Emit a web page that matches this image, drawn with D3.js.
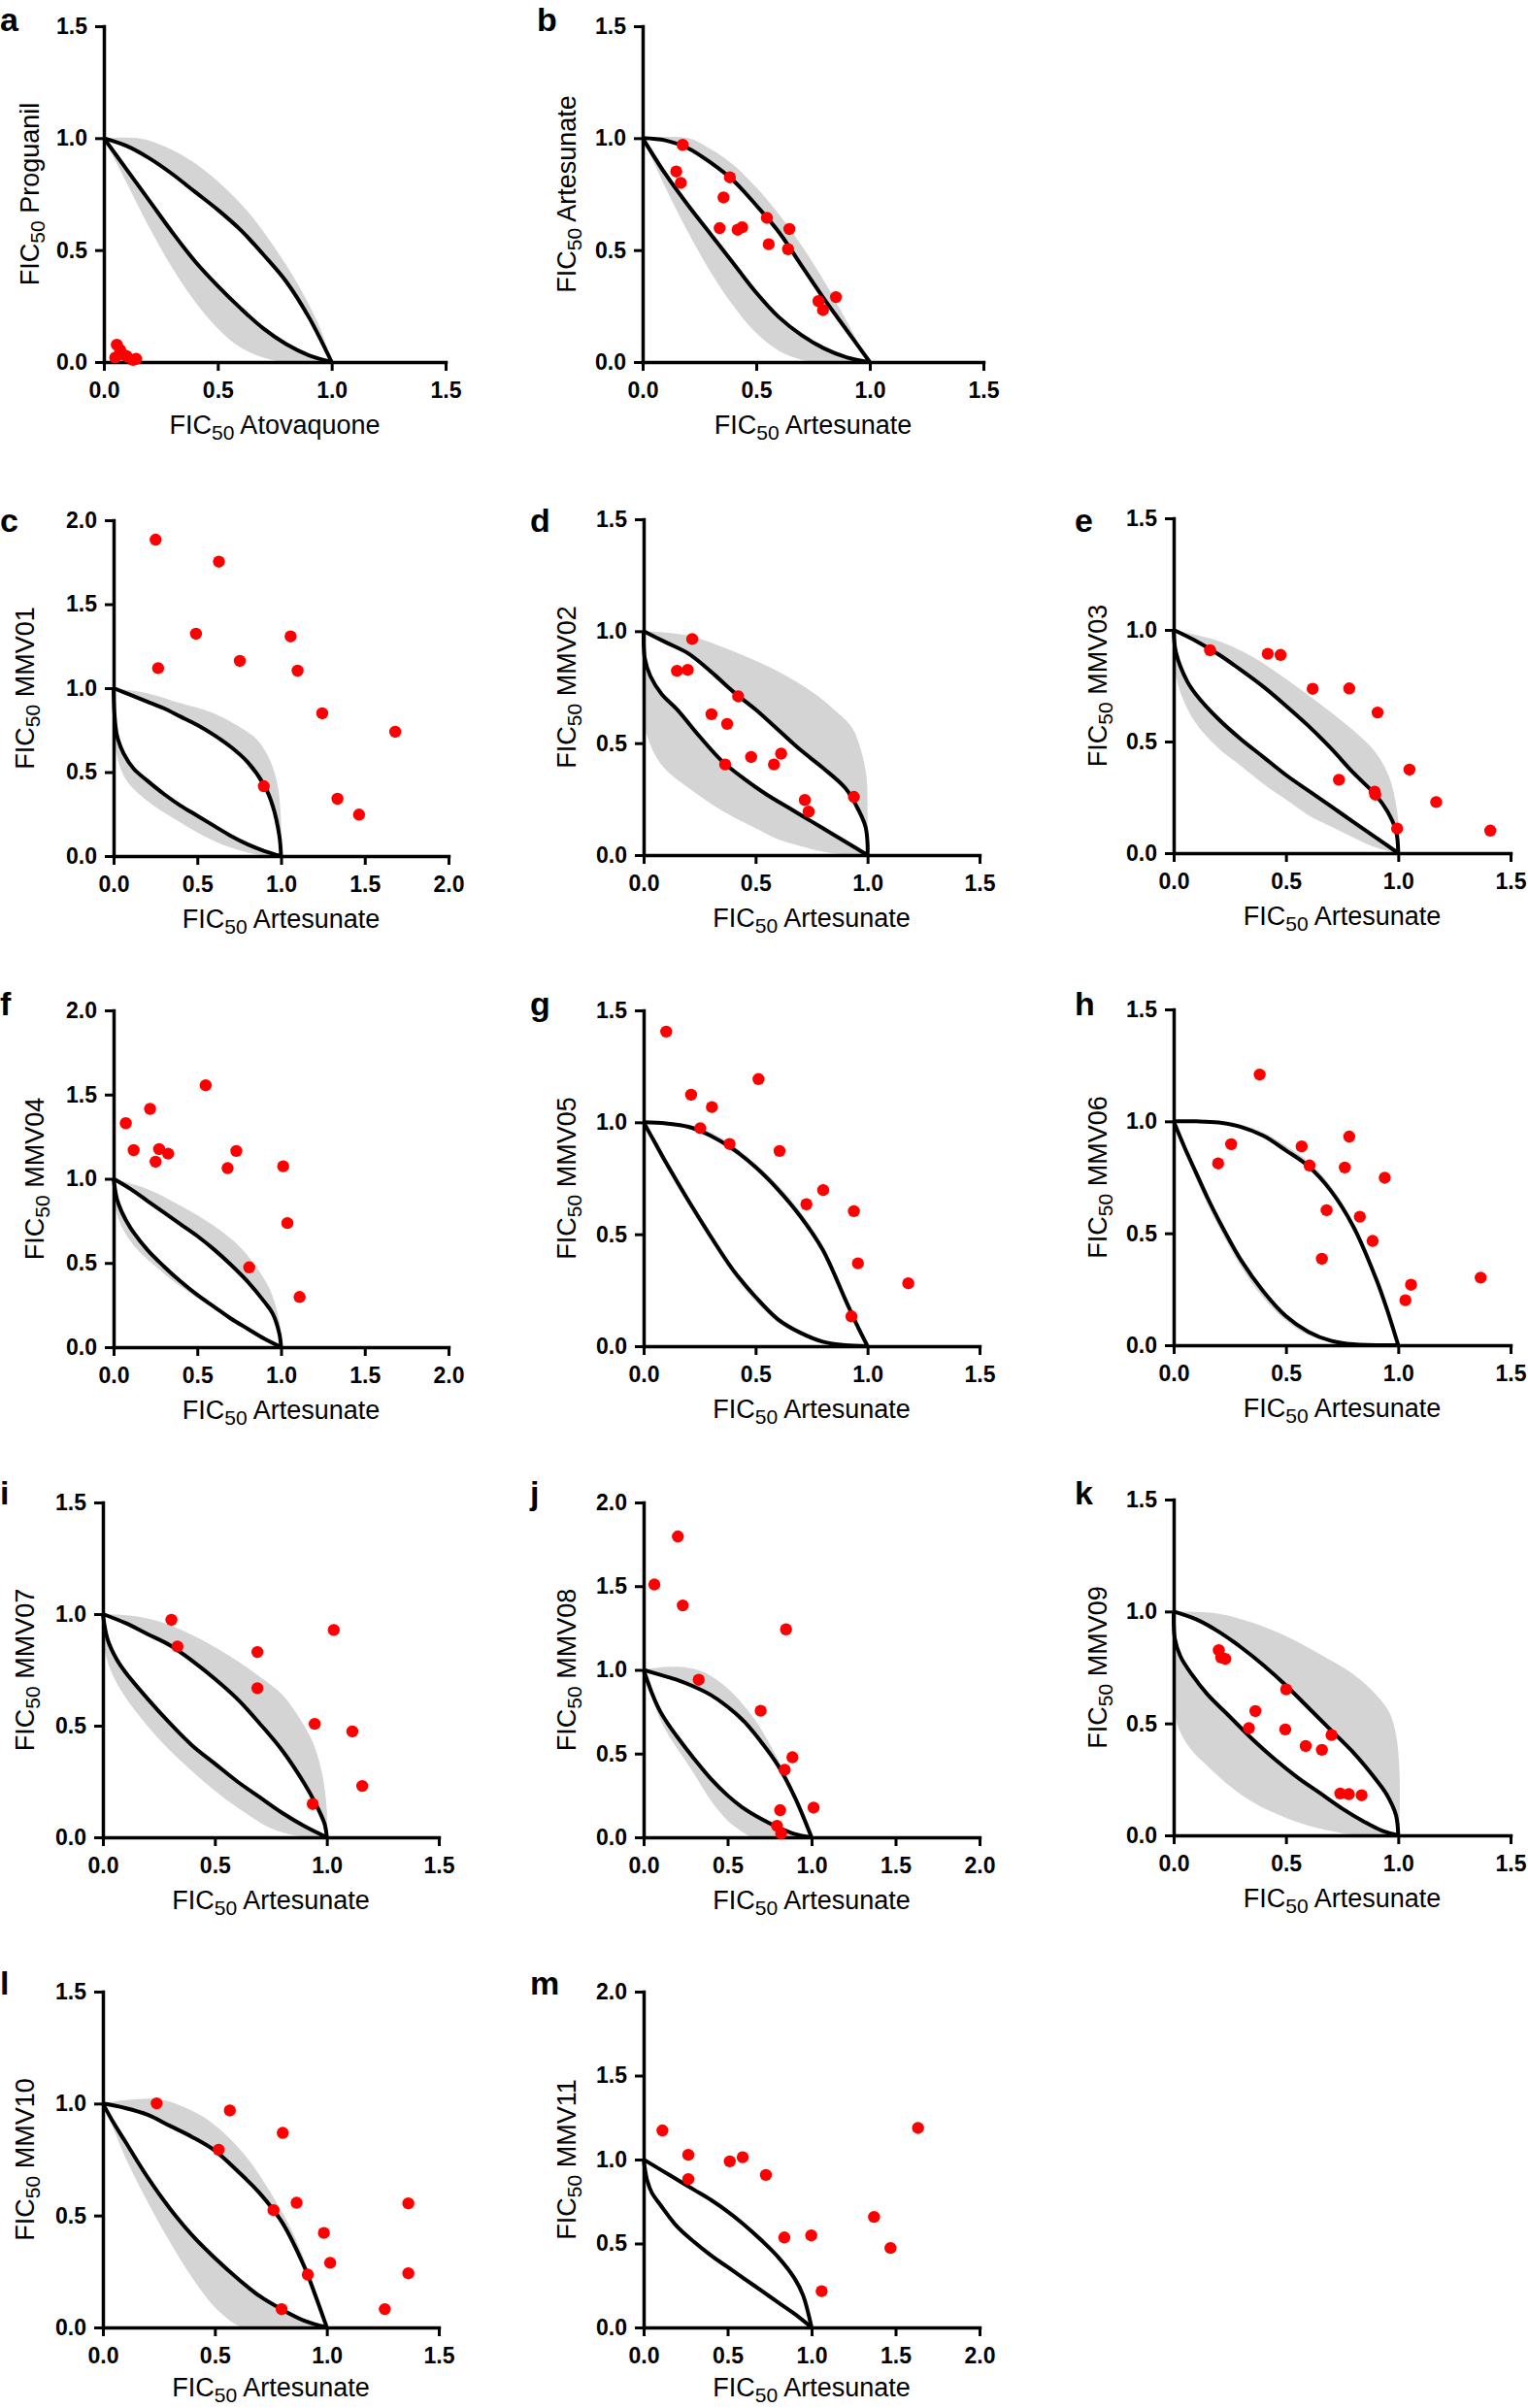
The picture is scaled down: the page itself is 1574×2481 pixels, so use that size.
<!DOCTYPE html>
<html><head><meta charset="utf-8">
<script src="https://cdn.jsdelivr.net/npm/d3@7"></script>
<style>body{margin:0;background:#fff} svg{display:block}</style>
</head><body>
<svg id="chart" width="1574" height="2481"></svg>
<script>
// ---------------- DATA ----------------
const panelIds = ["a","b","c","d","e","f","g","h","i","j","k","l","m"];
const xDrugs = ["Atovaquone","Artesunate","Artesunate","Artesunate","Artesunate","Artesunate","Artesunate","Artesunate","Artesunate","Artesunate","Artesunate","Artesunate","Artesunate"];
const yDrugs = ["Proguanil","Artesunate","MMV01","MMV02","MMV03","MMV04","MMV05","MMV06","MMV07","MMV08","MMV09","MMV10","MMV11"];
const xMaxes = [1.5,1.5,2,1.5,1.5,2,1.5,1.5,1.5,2,1.5,1.5,2];
const yMaxes = [1.5,1.5,2,1.5,1.5,2,1.5,1.5,1.5,2,1.5,1.5,2];
const ticks15 = [0,0.5,1.0,1.5];
const ticks20 = [0,0.5,1.0,1.5,2.0];

// observed combination points [FIC x, FIC y]
const pts_a = [[0.057,0.077],[0.071,0.055],[0.05,0.02],[0.085,0.033],[0.10,0.026],[0.128,0.009],[0.142,0.014]];
const pts_b = [[0.176,0.970],[0.148,0.851],[0.168,0.80],[0.384,0.825],[0.356,0.735],[0.339,0.598],[0.418,0.591],[0.438,0.602],[0.547,0.644],[0.555,0.526],[0.646,0.594],[0.640,0.504],[0.774,0.272],[0.794,0.232],[0.851,0.290]];
const pts_c = [[0.251,1.884],[0.629,1.753],[0.492,1.324],[1.057,1.308],[0.266,1.119],[0.754,1.162],[1.099,1.104],[1.246,0.850],[1.682,0.740],[0.897,0.416],[1.337,0.341],[1.466,0.247]];
const pts_d = [[0.217,0.965],[0.149,0.823],[0.197,0.827],[0.422,0.709],[0.303,0.629],[0.373,0.586],[0.364,0.405],[0.48,0.438],[0.582,0.405],[0.614,0.453],[0.72,0.246],[0.737,0.194],[0.939,0.26]];
const pts_e = [[0.162,0.909],[0.419,0.893],[0.476,0.888],[0.619,0.736],[0.782,0.738],[0.908,0.63],[1.05,0.374],[0.736,0.329],[0.895,0.275],[0.898,0.262],[1.169,0.229],[0.995,0.11],[1.41,0.101]];
const pts_f = [[0.55,1.555],[0.218,1.415],[0.073,1.33],[0.12,1.17],[0.272,1.176],[0.326,1.149],[0.251,1.101],[0.733,1.165],[0.681,1.063],[1.013,1.074],[1.038,0.737],[0.81,0.474],[1.111,0.298]];
const pts_g = [[0.101,1.405],[0.513,1.193],[0.212,1.123],[0.305,1.068],[0.253,0.974],[0.384,0.903],[0.607,0.872],[0.802,0.697],[0.727,0.634],[0.939,0.603],[0.957,0.37],[1.182,0.281],[0.928,0.133]];
const pts_h = [[0.383,1.209],[0.256,0.898],[0.198,0.812],[0.57,0.888],[0.605,0.803],[0.782,0.932],[0.762,0.794],[0.94,0.748],[0.681,0.603],[0.829,0.574],[0.886,0.466],[0.66,0.386],[1.057,0.27],[1.032,0.201],[1.367,0.302]];
const pts_i = [[0.306,0.974],[0.333,0.855],[0.69,0.83],[0.69,0.668],[1.031,0.929],[0.946,0.508],[1.114,0.474],[1.158,0.23],[0.937,0.149]];
const pts_j = [[0.204,1.797],[0.064,1.51],[0.233,1.385],[0.848,1.242],[0.328,0.941],[0.697,0.756],[0.886,0.478],[0.84,0.403],[0.813,0.162],[1.012,0.177],[0.794,0.069],[0.819,0.023]];
const pts_k = [[0.201,0.827],[0.212,0.794],[0.23,0.788],[0.501,0.652],[0.364,0.555],[0.335,0.479],[0.497,0.473],[0.703,0.448],[0.588,0.399],[0.66,0.382],[0.742,0.187],[0.78,0.184],[0.837,0.179]];
const pts_l = [[0.24,1.001],[0.567,0.969],[0.803,0.869],[0.517,0.794],[0.865,0.557],[0.762,0.524],[1.364,0.554],[0.987,0.422],[1.015,0.289],[0.915,0.236],[1.364,0.242],[0.798,0.082],[1.259,0.082]];
const pts_m = [[0.112,1.173],[0.266,1.028],[0.266,0.883],[0.513,0.989],[0.59,1.014],[0.728,0.908],[0.838,0.536],[0.998,0.548],[1.06,0.216],[1.372,0.658],[1.47,0.473],[1.634,1.188]];

// fitted isobole curves (upper = antagonism side, lower = synergy side)
const upper_a = [[0,1],[0.1,0.965],[0.2,0.91],[0.3,0.84],[0.4,0.76],[0.5,0.68],[0.6,0.59],[0.7,0.48],[0.8,0.36],[0.9,0.2],[1,0]];
const lower_a = [[0,1],[0.1,0.86],[0.2,0.72],[0.3,0.58],[0.4,0.45],[0.5,0.34],[0.6,0.24],[0.7,0.15],[0.8,0.08],[0.9,0.03],[1,0]];
const envUp_a = [[0,1],[0.15,1],[0.25,0.97],[0.35,0.92],[0.45,0.85],[0.55,0.76],[0.65,0.65],[0.75,0.51],[0.85,0.35],[0.95,0.15],[1,0]];
const envLo_a = [[0,1],[0.05,0.9],[0.1,0.8],[0.2,0.6],[0.3,0.42],[0.4,0.27],[0.5,0.15],[0.6,0.065],[0.7,0.02],[0.8,0],[1,0]];

const upper_b = [[0,1],[0.1,0.99],[0.2,0.955],[0.3,0.89],[0.4,0.81],[0.5,0.7],[0.6,0.58],[0.7,0.43],[0.8,0.28],[0.9,0.14],[1,0]];
const lower_b = [[0,1],[0.1,0.84],[0.2,0.7],[0.3,0.57],[0.4,0.44],[0.5,0.31],[0.6,0.2],[0.7,0.12],[0.8,0.06],[0.9,0.02],[1,0]];
const envUp_b = [[0,1],[0.2,1],[0.3,0.95],[0.4,0.88],[0.5,0.78],[0.6,0.66],[0.7,0.52],[0.8,0.36],[0.9,0.18],[0.97,0.05],[1,0]];
const envLo_b = [[0,1],[0.05,0.89],[0.1,0.78],[0.2,0.58],[0.3,0.4],[0.4,0.25],[0.5,0.13],[0.6,0.05],[0.7,0.01],[0.78,0],[1,0]];

const upper_c = [[0,1],[0.1,0.96],[0.2,0.92],[0.3,0.88],[0.4,0.83],[0.5,0.78],[0.6,0.72],[0.7,0.65],[0.8,0.56],[0.9,0.42],[0.95,0.3],[0.99,0.12],[1,0]];
const lower_c = [[0,1],[0.005,0.85],[0.02,0.72],[0.06,0.61],[0.12,0.52],[0.2,0.45],[0.3,0.37],[0.4,0.3],[0.5,0.24],[0.6,0.18],[0.7,0.12],[0.8,0.07],[0.9,0.03],[1,0]];
const envUp_c = [[0,1],[0.2,0.97],[0.4,0.91],[0.6,0.85],[0.75,0.77],[0.85,0.7],[0.93,0.58],[0.98,0.42],[1.0,0.2],[1,0]];
const envLo_c = [[0,1],[0,0.75],[0.02,0.6],[0.05,0.5],[0.1,0.42],[0.2,0.33],[0.3,0.26],[0.4,0.2],[0.5,0.14],[0.6,0.09],[0.7,0.05],[0.8,0.02],[0.9,0.003],[1,0]];

const upper_d = [[0,1],[0.1,0.95],[0.2,0.9],[0.3,0.82],[0.4,0.73],[0.5,0.65],[0.6,0.56],[0.7,0.47],[0.8,0.39],[0.9,0.3],[0.95,0.22],[0.99,0.13],[1,0.05],[1,0]];
const lower_d = [[0,1],[0.005,0.88],[0.03,0.8],[0.08,0.72],[0.15,0.65],[0.25,0.53],[0.35,0.42],[0.45,0.34],[0.55,0.27],[0.65,0.21],[0.75,0.15],[0.85,0.09],[0.95,0.03],[1,0]];
const envUp_d = [[0,1],[0.2,0.98],[0.4,0.91],[0.6,0.82],[0.75,0.73],[0.85,0.65],[0.93,0.57],[0.97,0.47],[0.995,0.35],[1,0.2],[1,0]];
const envLo_d = [[0,1],[0,0.6],[0.02,0.52],[0.05,0.45],[0.1,0.38],[0.2,0.3],[0.3,0.23],[0.4,0.17],[0.5,0.12],[0.6,0.07],[0.7,0.04],[0.8,0.015],[0.9,0.003],[1,0]];

const upper_e = [[0,1],[0.1,0.95],[0.2,0.89],[0.3,0.82],[0.4,0.745],[0.5,0.66],[0.6,0.57],[0.7,0.47],[0.8,0.36],[0.9,0.26],[0.95,0.19],[0.99,0.1],[1,0]];
const lower_e = [[0,1],[0.01,0.9],[0.06,0.77],[0.1,0.71],[0.2,0.6],[0.3,0.51],[0.4,0.43],[0.5,0.35],[0.6,0.28],[0.7,0.21],[0.8,0.14],[0.9,0.07],[1,0]];
const envUp_e = [[0,1],[0.2,0.95],[0.35,0.88],[0.5,0.78],[0.65,0.67],[0.8,0.55],[0.9,0.45],[0.96,0.34],[0.99,0.22],[1.005,0.08],[1,0]];
const envLo_e = [[0,1],[0,0.86],[0.03,0.72],[0.1,0.58],[0.2,0.47],[0.3,0.39],[0.4,0.31],[0.5,0.24],[0.6,0.17],[0.7,0.12],[0.8,0.07],[0.9,0.025],[1,0]];

const upper_f = [[0,1],[0.1,0.94],[0.2,0.87],[0.3,0.8],[0.4,0.73],[0.5,0.66],[0.6,0.58],[0.7,0.49],[0.8,0.39],[0.9,0.27],[0.95,0.2],[0.99,0.08],[1,0]];
const lower_f = [[0,1],[0.02,0.88],[0.05,0.8],[0.1,0.71],[0.2,0.58],[0.3,0.48],[0.4,0.39],[0.5,0.31],[0.6,0.24],[0.7,0.17],[0.8,0.11],[0.9,0.05],[1,0]];
const envUp_f = [[0,1],[0.2,0.94],[0.4,0.84],[0.6,0.72],[0.75,0.6],[0.85,0.48],[0.93,0.35],[0.98,0.2],[1.0,0.08],[1,0]];
const envLo_f = [[0,1],[0,0.88],[0.03,0.76],[0.08,0.66],[0.15,0.57],[0.25,0.48],[0.4,0.36],[0.55,0.26],[0.7,0.17],[0.85,0.08],[1,0]];

const upper_g = [[0,1],[0.1,0.995],[0.2,0.98],[0.3,0.94],[0.4,0.88],[0.5,0.8],[0.6,0.7],[0.7,0.58],[0.8,0.43],[0.9,0.21],[0.95,0.1],[1,0]];
const lower_g = [[0,1],[0.05,0.91],[0.1,0.82],[0.2,0.65],[0.3,0.49],[0.4,0.34],[0.5,0.22],[0.6,0.12],[0.7,0.06],[0.8,0.02],[0.9,0.004],[1,0]];
const envUp_g = [[0,1],[0.1,1],[0.2,0.99],[0.3,0.955],[0.4,0.895],[0.5,0.815],[0.6,0.72],[0.7,0.6],[0.8,0.45],[0.9,0.23],[0.95,0.11],[1,0]];
const envLo_g = [[0,1],[0.05,0.89],[0.1,0.8],[0.2,0.63],[0.3,0.47],[0.4,0.32],[0.5,0.2],[0.6,0.105],[0.7,0.05],[0.8,0.015],[0.9,0.002],[1,0]];

const upper_h = [[0,1],[0.1,1],[0.2,0.995],[0.3,0.975],[0.4,0.935],[0.5,0.87],[0.6,0.8],[0.7,0.69],[0.8,0.53],[0.9,0.3],[0.95,0.16],[1,0]];
const lower_h = [[0,1],[0.05,0.88],[0.1,0.77],[0.15,0.66],[0.2,0.56],[0.3,0.38],[0.4,0.24],[0.5,0.13],[0.6,0.06],[0.7,0.02],[0.8,0.004],[1,0]];
const envUp_h = [[0,1],[0.1,1],[0.2,1],[0.3,0.985],[0.4,0.95],[0.5,0.89],[0.6,0.82],[0.7,0.71],[0.8,0.55],[0.9,0.32],[0.95,0.17],[1,0]];
const envLo_h = [[0,1],[0.05,0.86],[0.1,0.74],[0.15,0.63],[0.2,0.53],[0.3,0.35],[0.4,0.21],[0.5,0.11],[0.6,0.045],[0.7,0.012],[0.8,0.002],[1,0]];

const upper_i = [[0,1],[0.1,0.96],[0.2,0.91],[0.3,0.86],[0.4,0.79],[0.5,0.71],[0.6,0.62],[0.7,0.51],[0.8,0.39],[0.9,0.24],[0.95,0.15],[0.99,0.06],[1,0]];
const lower_i = [[0,1],[0.02,0.89],[0.06,0.8],[0.1,0.74],[0.2,0.62],[0.3,0.51],[0.4,0.41],[0.5,0.33],[0.6,0.25],[0.7,0.18],[0.8,0.11],[0.9,0.05],[1,0]];
const envUp_i = [[0,1],[0.15,0.99],[0.3,0.95],[0.45,0.88],[0.6,0.79],[0.7,0.72],[0.8,0.64],[0.88,0.53],[0.94,0.42],[0.98,0.28],[1.0,0.12],[1,0]];
const envLo_i = [[0,1],[0,0.88],[0.03,0.76],[0.08,0.66],[0.15,0.56],[0.25,0.44],[0.35,0.34],[0.45,0.25],[0.55,0.17],[0.65,0.1],[0.75,0.04],[0.85,0.01],[0.95,0],[1,0]];

const upper_j = [[0,1],[0.1,0.97],[0.2,0.94],[0.3,0.9],[0.4,0.85],[0.5,0.78],[0.6,0.69],[0.7,0.57],[0.8,0.43],[0.9,0.24],[1,0]];
const lower_j = [[0,1],[0.05,0.86],[0.1,0.75],[0.15,0.67],[0.2,0.6],[0.3,0.47],[0.4,0.35],[0.5,0.25],[0.6,0.17],[0.7,0.11],[0.8,0.06],[0.9,0.02],[1,0]];
const envUp_j = [[0,1],[0.1,1.015],[0.25,1.015],[0.35,0.99],[0.45,0.93],[0.55,0.84],[0.65,0.72],[0.75,0.56],[0.85,0.36],[0.95,0.12],[1,0]];
const envLo_j = [[0,1],[0.04,0.86],[0.08,0.75],[0.12,0.66],[0.2,0.53],[0.3,0.38],[0.4,0.22],[0.5,0.1],[0.6,0.025],[0.65,0],[1,0]];

const upper_k = [[0,1],[0.1,0.965],[0.2,0.91],[0.3,0.84],[0.4,0.76],[0.5,0.67],[0.6,0.57],[0.7,0.47],[0.8,0.37],[0.9,0.25],[0.95,0.18],[0.99,0.09],[1,0]];
const lower_k = [[0,1],[0.005,0.88],[0.03,0.8],[0.08,0.72],[0.15,0.63],[0.25,0.53],[0.35,0.43],[0.45,0.34],[0.55,0.26],[0.65,0.19],[0.75,0.12],[0.85,0.06],[0.93,0.02],[1,0]];
const envUp_k = [[0,1],[0.2,0.99],[0.35,0.95],[0.5,0.89],[0.65,0.81],[0.8,0.72],[0.9,0.63],[0.96,0.55],[0.99,0.45],[1.005,0.3],[1.005,0.05],[1,0]];
const envLo_k = [[0,1],[0,0.6],[0.01,0.52],[0.03,0.46],[0.08,0.38],[0.15,0.31],[0.25,0.22],[0.35,0.15],[0.45,0.1],[0.55,0.06],[0.65,0.03],[0.75,0.01],[0.85,0.002],[1,0]];

const upper_l = [[0,1],[0.1,0.98],[0.2,0.95],[0.3,0.9],[0.4,0.85],[0.5,0.79],[0.6,0.7],[0.7,0.6],[0.8,0.47],[0.9,0.27],[0.95,0.14],[1,0]];
const lower_l = [[0,1],[0.05,0.91],[0.1,0.83],[0.2,0.67],[0.3,0.53],[0.4,0.41],[0.5,0.31],[0.6,0.22],[0.7,0.14],[0.8,0.08],[0.9,0.03],[1,0]];
const envUp_l = [[0,1],[0.1,1.015],[0.25,1.02],[0.35,0.99],[0.45,0.94],[0.55,0.86],[0.65,0.75],[0.75,0.6],[0.85,0.42],[0.93,0.22],[1,0]];
const envLo_l = [[0,1],[0.05,0.88],[0.1,0.76],[0.2,0.56],[0.3,0.38],[0.4,0.22],[0.5,0.09],[0.6,0.01],[0.65,0],[1,0]];

const upper_m = [[0,1],[0.1,0.94],[0.2,0.88],[0.3,0.82],[0.4,0.76],[0.5,0.69],[0.6,0.61],[0.7,0.52],[0.8,0.42],[0.9,0.29],[0.95,0.19],[1,0]];
const lower_m = [[0,1],[0.02,0.88],[0.05,0.8],[0.1,0.73],[0.2,0.6],[0.3,0.51],[0.4,0.43],[0.5,0.36],[0.6,0.29],[0.7,0.22],[0.8,0.15],[0.9,0.08],[1,0]];
const envUp_m = [[0,1],[0.1,0.945],[0.2,0.89],[0.3,0.83],[0.4,0.77],[0.5,0.705],[0.6,0.625],[0.7,0.54],[0.8,0.44],[0.9,0.31],[0.95,0.21],[1,0]];
const envLo_m = [[0,1],[0,0.92],[0.02,0.86],[0.05,0.78],[0.1,0.71],[0.2,0.585],[0.3,0.495],[0.4,0.415],[0.5,0.345],[0.6,0.275],[0.7,0.21],[0.8,0.14],[0.9,0.07],[1,0]];

const ptsAll = [pts_a,pts_b,pts_c,pts_d,pts_e,pts_f,pts_g,pts_h,pts_i,pts_j,pts_k,pts_l,pts_m];
const upperAll = [upper_a,upper_b,upper_c,upper_d,upper_e,upper_f,upper_g,upper_h,upper_i,upper_j,upper_k,upper_l,upper_m];
const lowerAll = [lower_a,lower_b,lower_c,lower_d,lower_e,lower_f,lower_g,lower_h,lower_i,lower_j,lower_k,lower_l,lower_m];
const envUpAll = [envUp_a,envUp_b,envUp_c,envUp_d,envUp_e,envUp_f,envUp_g,envUp_h,envUp_i,envUp_j,envUp_k,envUp_l,envUp_m];
const envLoAll = [envLo_a,envLo_b,envLo_c,envLo_d,envLo_e,envLo_f,envLo_g,envLo_h,envLo_i,envLo_j,envLo_k,envLo_l,envLo_m];

// ---------------- LAYOUT ----------------
const layout = {
 a:{x0:107,x1:459,yT:27,y0:373,lx:0,ly:32,yt:67,xt:74},
 b:{x0:662,x1:1013,yT:27,y0:373,lx:553,ly:32,yt:69,xt:74},
 c:{x0:117,x1:462,yT:536,y0:882,lx:0,ly:548,yt:82,xt:74},
 d:{x0:663,x1:1009,yT:535,y0:881,lx:546,ly:548,yt:70,xt:74},
 e:{x0:1209,x1:1556,yT:534,y0:879,lx:1107,ly:548,yt:69,xt:74},
 f:{x0:117,x1:462,yT:1041,y0:1388,lx:0,ly:1046,yt:72,xt:74},
 g:{x0:663,x1:1009,yT:1041,y0:1387,lx:546,ly:1046,yt:70,xt:74},
 h:{x0:1209,x1:1556,yT:1040,y0:1386,lx:1107,ly:1046,yt:69,xt:74},
 i:{x0:106,x1:452,yT:1548,y0:1893,lx:0,ly:1550,yt:71,xt:74},
 j:{x0:663,x1:1009,yT:1548,y0:1893,lx:546,ly:1550,yt:70,xt:74},
 k:{x0:1209,x1:1556,yT:1545,y0:1891,lx:1107,ly:1550,yt:69,xt:74},
 l:{x0:106,x1:452,yT:2052,y0:2398,lx:0,ly:2055,yt:71,xt:71},
 m:{x0:663,x1:1009,yT:2052,y0:2398,lx:546,ly:2055,yt:70,xt:71}
};

const FONT = "'Liberation Sans', Arial, Helvetica, sans-serif";
const svg = d3.select("#chart");
svg.append("rect").attr("width",1574).attr("height",2481).attr("fill","#fff");

function ficLabel(sel, drug){
  sel.attr("xml:space","preserve");
  sel.append("tspan").text("FIC");
  sel.append("tspan").attr("font-size","21px").attr("dy",6).text("50");
  sel.append("tspan").attr("dy",-6).text(" " + drug);
}

panelIds.forEach((id, idx) => {
  const L = layout[id];
  const xMax = xMaxes[idx], yMax = yMaxes[idx];
  const x = d3.scaleLinear().domain([0,xMax]).range([L.x0,L.x1]);
  const y = d3.scaleLinear().domain([0,yMax]).range([L.y0,L.yT]);
  const g = svg.append("g").attr("class","panel-"+id);
  const line = d3.line().x(d=>x(d[0])).y(d=>y(d[1])).curve(d3.curveCatmullRom.alpha(0.5));
  const closed = (a,b) => line(a) + line(b.slice().reverse()).replace(/^M/,"L") + "Z";

  g.append("path").attr("d", closed(envUpAll[idx], envLoAll[idx])).attr("fill","#d4d4d4");
  g.append("path").attr("d", closed(upperAll[idx], lowerAll[idx])).attr("fill","#fff");
  [upperAll[idx], lowerAll[idx]].forEach(c => {
    g.append("path").attr("d", line(c)).attr("fill","none").attr("stroke","#000")
     .attr("stroke-width",4).attr("stroke-linejoin","round");
  });

  const xt = xMax === 2 ? ticks20 : ticks15;
  const yt = yMax === 2 ? ticks20 : ticks15;
  const xa = g.append("g").attr("transform",`translate(0,${L.y0})`)
    .call(d3.axisBottom(x).tickValues(xt).tickFormat(d3.format(".1f")).tickSize(9).tickSizeOuter(0).tickPadding(12));
  const ya = g.append("g").attr("transform",`translate(${L.x0},0)`)
    .call(d3.axisLeft(y).tickValues(yt).tickFormat(d3.format(".1f")).tickSize(9).tickSizeOuter(0).tickPadding(8));
  [xa, ya].forEach(a => {
    a.attr("font-family", FONT).attr("font-size", 23).attr("font-weight","bold");
    a.select(".domain").attr("stroke","#000").attr("stroke-width",3.5).attr("stroke-linecap","square");
    a.selectAll(".tick line").attr("stroke","#000").attr("stroke-width",3);
    a.selectAll(".tick text").attr("fill","#000");
  });

  // points
  g.append("g").selectAll("circle").data(ptsAll[idx]).join("circle")
    .attr("cx", d=>x(d[0])).attr("cy", d=>y(d[1])).attr("r",6.2).attr("fill","#ff0000");

  // axis titles
  const xt1 = g.append("text").attr("x",(L.x0+L.x1)/2).attr("y",L.y0+L.xt)
    .attr("text-anchor","middle").attr("font-family",FONT).attr("font-size",27).attr("fill","#000");
  ficLabel(xt1, xDrugs[idx]);
  const yt1 = g.append("text").attr("transform",`translate(${L.x0-L.yt},${(L.y0+L.yT)/2}) rotate(-90)`)
    .attr("text-anchor","middle").attr("font-family",FONT).attr("font-size",27).attr("fill","#000");
  ficLabel(yt1, yDrugs[idx]);

  // panel letter
  g.append("text").attr("x",L.lx).attr("y",L.ly).attr("font-family",FONT).attr("font-size",34)
    .attr("font-weight","bold").attr("fill","#000").text(id);
});
</script>
</body></html>
